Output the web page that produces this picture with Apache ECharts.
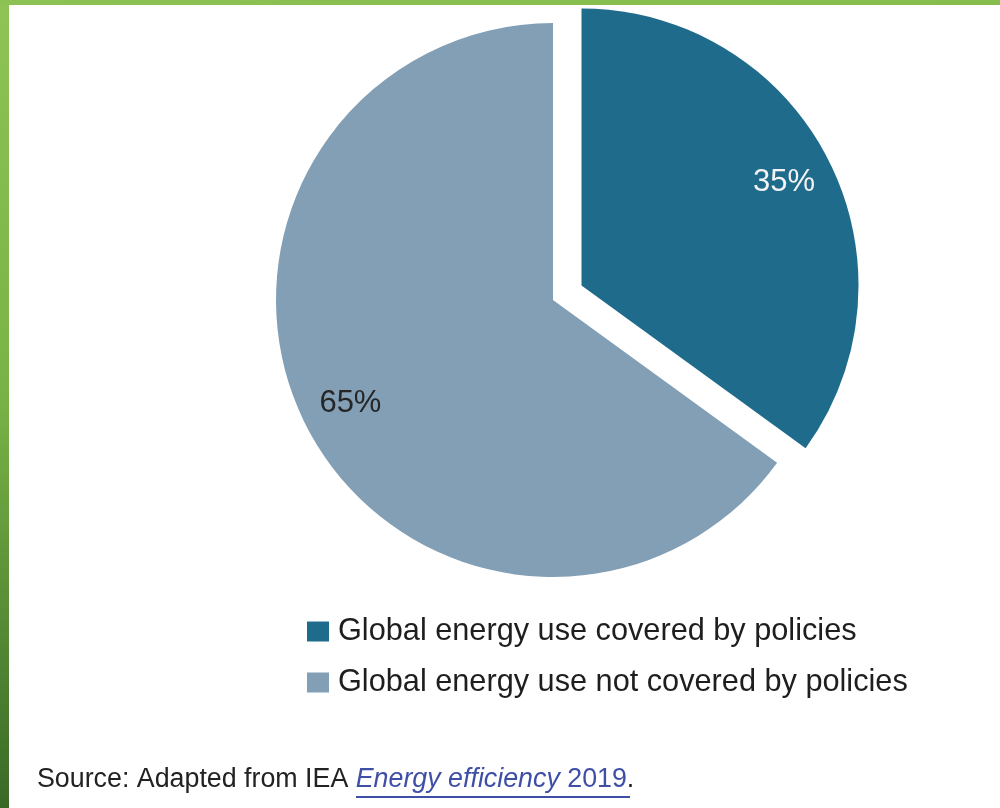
<!DOCTYPE html>
<html><head><meta charset="utf-8">
<script src="https://cdn.jsdelivr.net/npm/echarts@6/dist/echarts.min.js"></script>
<style>html,body{margin:0;padding:0;background:#fff}#c{width:1000px;height:808px}</style>
</head><body><div id="c"></div>
<script>
const categories = ['Global energy use covered by policies', 'Global energy use not covered by policies'];
const values = [35, 65];
const valueLabels = ['35%', '65%'];
const sliceColors = ['#1f6b8c', '#839fb5'];
const labelColors = ['#f4f4f4', '#262626'];
const sourceParts = ['Source: Adapted from IEA ', 'Energy efficiency', ' 2019', '.'];

const FONT = '"Liberation Sans", Arial, sans-serif';
const CX = 553, CY = 300, R = 277;

const mainData = categories.map((n, i) => ({
  name: n, value: values[i], selected: i === 0,
  itemStyle: { color: sliceColors[i] }
}));
const labelData = categories.map((n, i) => ({
  name: n, value: values[i], selected: i === 0,
  itemStyle: { color: 'rgba(0,0,0,0)' },
  label: { color: labelColors[i] }
}));

const chart = echarts.init(document.getElementById('c'), null, { renderer: 'canvas' });
chart.setOption({
  animation: false,
  backgroundColor: '#ffffff',
  legend: {
    data: categories,
    orient: 'vertical',
    left: 302, top: 611,
    itemWidth: 22, itemHeight: 20, itemGap: 20,
    icon: 'rect',
    selectedMode: false,
    textStyle: { fontFamily: FONT, fontSize: 30.7, color: '#1e1e1e', padding: [0, 0, 0, 4] }
  },
  series: [
    {
      type: 'pie', center: [CX, CY], radius: [0, R],
      startAngle: 90, clockwise: true,
      selectedMode: 'single', selectedOffset: 32,
      label: { show: false }, labelLine: { show: false },
      emphasis: { disabled: true },
      silent: true,
      data: mainData
    },
    {
      type: 'pie', center: [CX, CY], radius: [R * 0.62, R],
      startAngle: 90, clockwise: true,
      selectedMode: 'single', selectedOffset: 32,
      label: {
        show: true, position: 'inside',
        fontFamily: FONT, fontSize: 31,
        padding: [10, 0, 0, 0],
        formatter: p => valueLabels[p.dataIndex]
      },
      labelLine: { show: false },
      emphasis: { disabled: true },
      silent: true,
      data: labelData
    }
  ],
  graphic: [
    { type: 'rect', left: 0, top: 0, silent: true, z: 10,
      shape: { width: 9, height: 808 },
      style: { fill: new echarts.graphic.LinearGradient(0, 0, 0, 1, [
        { offset: 0, color: '#8fc355' }, { offset: 0.5, color: '#78b246' }, { offset: 1, color: '#3a6927' }]) } },
    { type: 'rect', left: 0, top: 0, silent: true, z: 10,
      shape: { width: 1000, height: 5 },
      style: { fill: new echarts.graphic.LinearGradient(0, 0, 1, 0, [
        { offset: 0, color: '#8cc153' }, { offset: 1, color: '#86bd4c' }]) } },
    { type: 'text', left: 37, top: 766, silent: true,
      style: {
        text: '{a|' + sourceParts[0] + '}{b|' + sourceParts[1] + '}{c|' + sourceParts[2] + '}{a|' + sourceParts[3] + '}',
        rich: {
          a: { fontFamily: FONT, fontSize: 26.8, fill: '#222222' },
          b: { fontFamily: FONT, fontSize: 26.8, fontStyle: 'italic', fill: '#3f4fa6' },
          c: { fontFamily: FONT, fontSize: 26.8, fill: '#3f4fa6' }
        }
      } },
    { type: 'line', silent: true,
      shape: { x1: 356, y1: 797, x2: 630, y2: 797 },
      style: { stroke: '#3f4fa6', lineWidth: 2 } }
  ]
});
</script></body></html>
